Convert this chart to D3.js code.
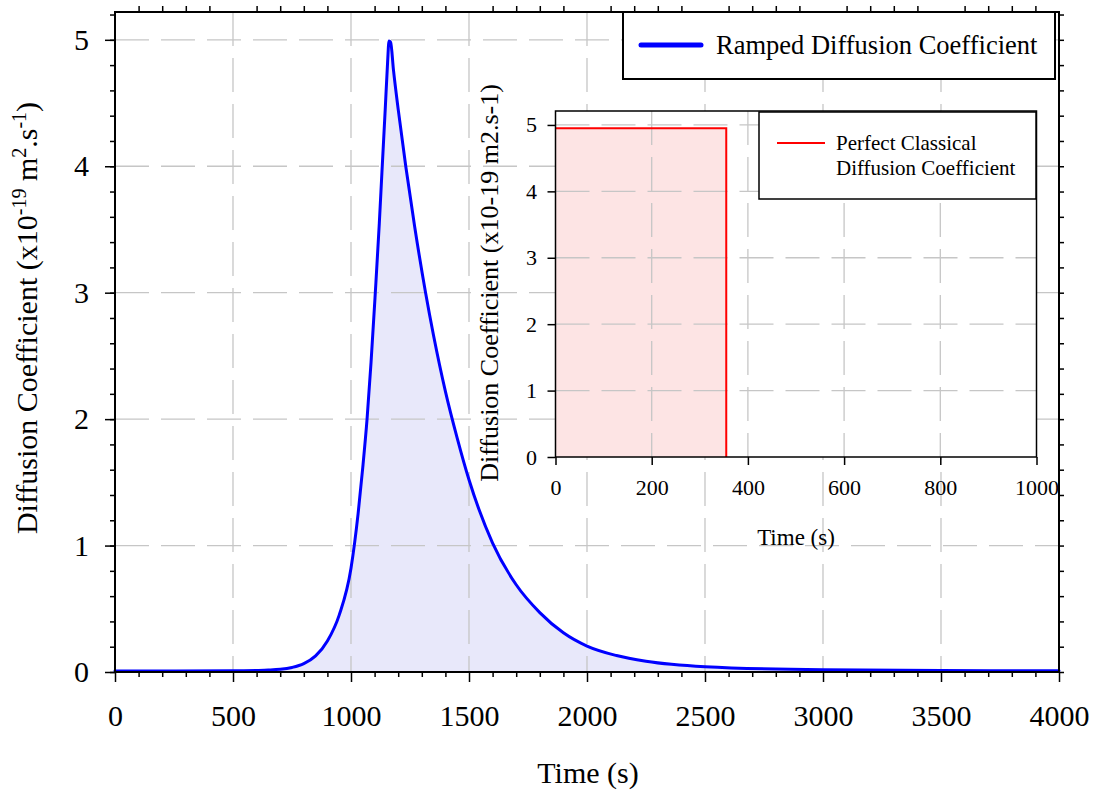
<!DOCTYPE html>
<html lang="en">
	<head>
		<meta charset="utf-8">
		<title>Ramped Diffusion Coefficient</title>
		<script type="text/javascript" src="https://cdn.jsdelivr.net/npm/d3@7/dist/d3.min.js"></script>
		<style>
			body { margin: 0; background: #fff; }
			text { font-family: "Liberation Serif", "Times New Roman", serif; fill: #000; }
		</style>
	</head>
	<body>
		<script type="text/javascript">
			//Ramped curve (time in s, D in 1e-19 m2/s)
			var rampTime = [0, 500, 600, 650, 700, 750, 800, 850, 900, 950, 1000, 1030, 1050, 1068, 1085, 1103, 1120, 1131, 1145, 1155, 1161,
				1168, 1180, 1200, 1232, 1270, 1316, 1350, 1400, 1450, 1500, 1600, 1700, 1800, 1900, 2000, 2125, 2250, 2500, 3000, 3500, 4000];
			var rampD = [0.008, 0.009, 0.012, 0.015, 0.021, 0.036, 0.066, 0.127, 0.245, 0.45, 0.82, 1.25, 1.62, 2.0, 2.45, 3.0, 3.55, 3.95, 4.45, 4.82, 4.99,
				4.98, 4.76, 4.45, 4.0, 3.52, 3.0, 2.66, 2.22, 1.85, 1.52, 1.02, 0.69, 0.47, 0.31, 0.205, 0.13, 0.085, 0.042, 0.017, 0.011, 0.009];

			//Perfect classical step (inset)
			var stepTime = [0, 355, 355];
			var stepD = [4.95, 4.95, 0];

			//Tick values
			var xMajor = [0, 500, 1000, 1500, 2000, 2500, 3000, 3500, 4000];
			var yMajor = [0, 1, 2, 3, 4, 5];
			var insetXTicks = [0, 200, 400, 600, 800, 1000];
			var insetYTicks = [0, 1, 2, 3, 4, 5];

			var xMinor = d3.range(0, 4001, 100).filter(function(d) { return d % 500 !== 0; });
			var yMinor = d3.range(0, 27).map(function(i) { return +(i * 0.2).toFixed(1); });

			var w = 1096, h = 791;
			var gridColor = "#c6c6c6";
			var fmt = d3.format("d");

			var svg = d3.select("body")
				.append("svg")
				.attr("width", w)
				.attr("height", h);

			//Main scales
			var xScale = d3.scaleLinear().domain([0, 4000]).range([115, 1059]);
			var yScale = d3.scaleLinear().domain([0, 5.22]).range([672, 12]);

			var ramp = rampTime.map(function(t, i) { return [t, rampD[i]]; });

			//Fill under ramped curve
			svg.append("path")
				.datum(ramp)
				.attr("fill", "#e8e8fa")
				.attr("d", d3.area()
					.x(function(d) { return xScale(d[0]); })
					.y0(yScale(0))
					.y1(function(d) { return yScale(d[1]); })
					.curve(d3.curveMonotoneX));

			//Main grid
			svg.append("g").selectAll("line")
				.data(xMajor.slice(1, -1))
				.enter().append("line")
				.attr("x1", function(d) { return xScale(d); })
				.attr("x2", function(d) { return xScale(d); })
				.attr("y1", 12).attr("y2", 672)
				.attr("stroke", gridColor).attr("stroke-width", 1.3)
				.attr("stroke-dasharray", "34,12");
			svg.append("g").selectAll("line")
				.data(yMajor.slice(1))
				.enter().append("line")
				.attr("x1", 115).attr("x2", 1059)
				.attr("y1", function(d) { return yScale(d); })
				.attr("y2", function(d) { return yScale(d); })
				.attr("stroke", gridColor).attr("stroke-width", 1.3)
				.attr("stroke-dasharray", "34,12");

			//Ramped curve
			svg.append("path")
				.datum(ramp)
				.attr("fill", "none")
				.attr("stroke", "#0000ff")
				.attr("stroke-width", 3)
				.attr("stroke-linecap", "round")
				.attr("stroke-linejoin", "round")
				.attr("d", d3.line()
					.x(function(d) { return xScale(d[0]); })
					.y(function(d) { return yScale(d[1]); })
					.curve(d3.curveMonotoneX));

			//Axis styling
			function styleAxis(g, size) {
				g.select(".domain").remove();
				g.attr("font-family", "Liberation Serif");
				g.selectAll("line").attr("stroke", "#000").attr("stroke-width", 1.5);
				g.selectAll("text").style("font-family", "'Liberation Serif', serif").style("font-size", size + "px");
			}

			svg.append("g")
				.attr("transform", "translate(0,672)")
				.call(d3.axisBottom(xScale).tickValues(xMajor).tickFormat(fmt).tickSize(10).tickPadding(22.7))
				.call(styleAxis, 30);
			svg.append("g")
				.attr("transform", "translate(0,672)")
				.call(d3.axisBottom(xScale).tickValues(xMinor).tickSize(5).tickFormat(""))
				.call(styleAxis, 30);
			svg.append("g")
				.attr("transform", "translate(0,12)")
				.call(d3.axisTop(xScale).tickValues(xMinor).tickSize(6).tickFormat(""))
				.call(styleAxis, 30);

			svg.append("g")
				.attr("transform", "translate(115,0)")
				.call(d3.axisLeft(yScale).tickValues(yMajor).tickFormat(fmt).tickSize(10).tickPadding(16))
				.call(styleAxis, 30);
			svg.append("g")
				.attr("transform", "translate(115,0)")
				.call(d3.axisLeft(yScale).tickValues(yMinor).tickSize(5).tickFormat(""))
				.call(styleAxis, 30);
			svg.append("g")
				.attr("transform", "translate(1059,0)")
				.call(d3.axisRight(yScale).tickValues(yMinor).tickSize(5).tickFormat(""))
				.call(styleAxis, 30);

			//Plot frame
			svg.append("rect")
				.attr("x", 115).attr("y", 12)
				.attr("width", 1059 - 115).attr("height", 672 - 12)
				.attr("fill", "none").attr("stroke", "#000").attr("stroke-width", 2);

			//Axis titles
			svg.append("text")
				.attr("x", 588).attr("y", 783)
				.attr("text-anchor", "middle")
				.style("font-size", "30px")
				.text("Time (s)");

			var yTitle = svg.append("text")
				.attr("transform", "translate(37,318) rotate(-90)")
				.attr("text-anchor", "middle")
				.style("font-size", "30px");
			yTitle.append("tspan").text("Diffusion Coefficient (x10");
			yTitle.append("tspan").attr("dy", -11).style("font-size", "20px").text("-19");
			yTitle.append("tspan").attr("dy", 11).text(" m");
			yTitle.append("tspan").attr("dy", -11).style("font-size", "20px").text("2");
			yTitle.append("tspan").attr("dy", 11).text(".s");
			yTitle.append("tspan").attr("dy", -11).style("font-size", "20px").text("-1");
			yTitle.append("tspan").attr("dy", 11).text(")");

			//Main legend
			svg.append("rect")
				.attr("x", 623).attr("y", 12).attr("width", 432).attr("height", 67)
				.attr("fill", "#fff").attr("stroke", "#000").attr("stroke-width", 2);
			svg.append("line")
				.attr("x1", 641).attr("x2", 701).attr("y1", 45).attr("y2", 45)
				.attr("stroke", "#0000ff").attr("stroke-width", 5).attr("stroke-linecap", "round");
			svg.append("text")
				.attr("x", 716).attr("y", 54)
				.style("font-size", "26.5px")
				.text("Ramped Diffusion Coefficient");

			//Inset chart
			var ix = d3.scaleLinear().domain([0, 1000]).range([555.5, 1036.5]);
			var iy = d3.scaleLinear().domain([0, 5.21]).range([457, 111]);

			svg.append("rect")
				.attr("x", 555.5).attr("y", 111)
				.attr("width", 1036.5 - 555.5).attr("height", 457 - 111)
				.attr("fill", "#fff");

			var step = stepTime.map(function(t, i) { return [t, stepD[i]]; });

			svg.append("path")
				.datum(step)
				.attr("fill", "#fde4e4")
				.attr("d", d3.area()
					.x(function(d) { return ix(d[0]); })
					.y0(iy(0))
					.y1(function(d) { return iy(d[1]); }));

			svg.append("g").selectAll("line")
				.data(insetXTicks.slice(1, -1))
				.enter().append("line")
				.attr("x1", function(d) { return ix(d); })
				.attr("x2", function(d) { return ix(d); })
				.attr("y1", 111).attr("y2", 457)
				.attr("stroke", gridColor).attr("stroke-width", 1.3)
				.attr("stroke-dasharray", "34,12");
			svg.append("g").selectAll("line")
				.data(insetYTicks.slice(1))
				.enter().append("line")
				.attr("x1", 555.5).attr("x2", 1036.5)
				.attr("y1", function(d) { return iy(d); })
				.attr("y2", function(d) { return iy(d); })
				.attr("stroke", gridColor).attr("stroke-width", 1.3)
				.attr("stroke-dasharray", "34,12");

			svg.append("path")
				.datum(step)
				.attr("fill", "none")
				.attr("stroke", "#ff0000")
				.attr("stroke-width", 2)
				.attr("d", d3.line()
					.x(function(d) { return ix(d[0]); })
					.y(function(d) { return iy(d[1]); }));

			svg.append("g")
				.attr("transform", "translate(0,457)")
				.call(d3.axisBottom(ix).tickValues(insetXTicks).tickFormat(fmt).tickSize(8).tickPadding(14.4))
				.call(styleAxis, 22);
			svg.append("g")
				.attr("transform", "translate(555.5,0)")
				.call(d3.axisLeft(iy).tickValues(insetYTicks).tickFormat(fmt).tickSize(8).tickPadding(10.5))
				.call(styleAxis, 22);

			svg.append("rect")
				.attr("x", 555.5).attr("y", 111)
				.attr("width", 1036.5 - 555.5).attr("height", 457 - 111)
				.attr("fill", "none").attr("stroke", "#000").attr("stroke-width", 1.5);

			//Inset legend
			svg.append("rect")
				.attr("x", 759).attr("y", 112).attr("width", 277).attr("height", 87)
				.attr("fill", "#fff").attr("stroke", "#000").attr("stroke-width", 1.5);
			svg.append("line")
				.attr("x1", 777).attr("x2", 825).attr("y1", 143).attr("y2", 143)
				.attr("stroke", "#ff0000").attr("stroke-width", 2);
			svg.append("text")
				.attr("x", 836).attr("y", 150)
				.style("font-size", "21px")
				.text("Perfect Classical");
			svg.append("text")
				.attr("x", 836).attr("y", 175)
				.style("font-size", "21px")
				.text("Diffusion Coefficient");

			//Inset titles
			svg.append("text")
				.attr("x", 796).attr("y", 545)
				.attr("text-anchor", "middle")
				.style("font-size", "23px")
				.text("Time (s)");
			svg.append("text")
				.attr("transform", "translate(498,283) rotate(-90)")
				.attr("text-anchor", "middle")
				.style("font-size", "26px")
				.text("Diffusion Coefficient (x10-19 m2.s-1)");
		</script>
	</body>
</html>
